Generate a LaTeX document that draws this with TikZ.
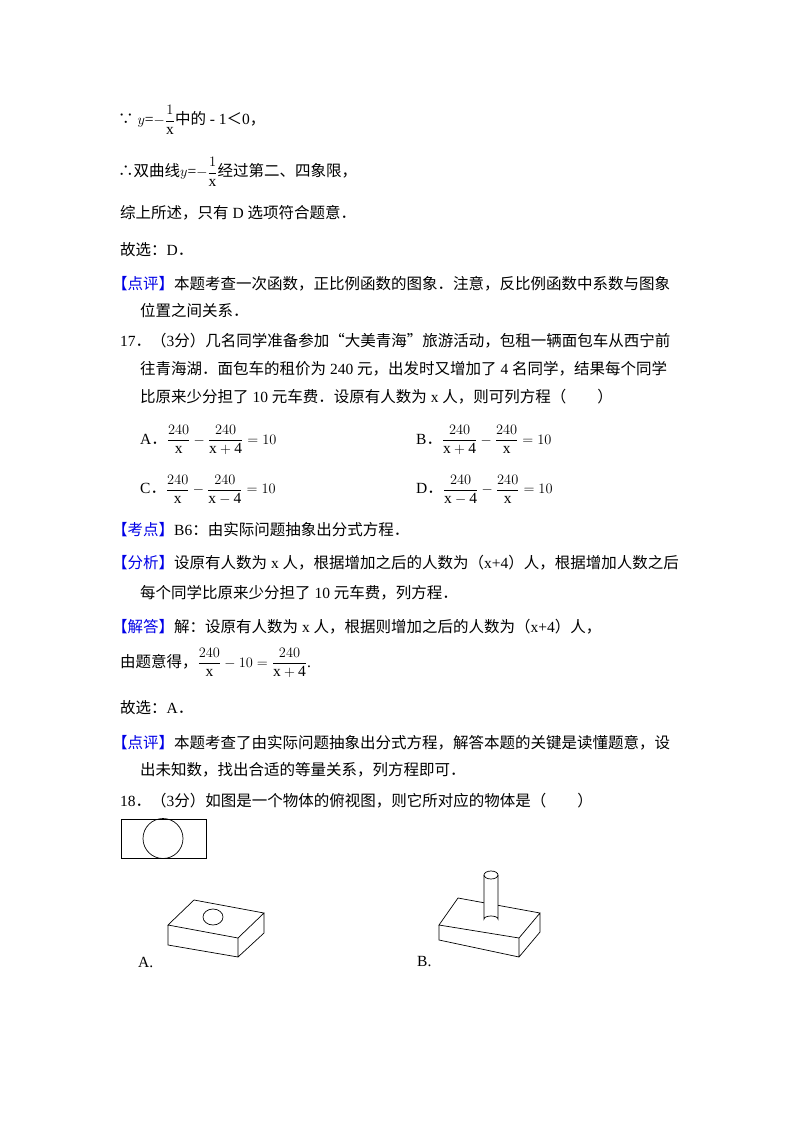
\documentclass[tikz,border=0pt]{standalone}
\usepackage{amsmath}
\usepackage{fontspec}
\setmainfont{Liberation Serif}
\newfontfamily\cjk{Noto Sans CJK SC}
\newcommand{\C}[1]{{\cjk #1}}
\definecolor{bl}{RGB}{0,0,230}
\newcommand{\btag}[1]{\textcolor{bl}{\C{【#1】}}}
\begin{document}
\begin{tikzpicture}[x=1pt,y=-1pt,font=\fontsize{15.5}{18}\selectfont,
 t/.style={anchor=west,inner sep=0pt},
 ln/.style={line width=0.9pt}]
\useasboundingbox (0,0) rectangle (800,1132);
\node[t] (l1) at (118,120) {\C{∵} $y$=$-\dfrac{1}{\mathrm{x}}$\C{中的} - 1\C{＜}0\C{，}};
\node[t] (l2) at (118,172) {\C{∴双曲线}$y$=$-\dfrac{1}{\mathrm{x}}$\C{经过第二、四象限，}};
\node[t] (l3) at (120,213) {\C{综上所述，只有} D \C{选项符合题意．}};
\node[t] (l4) at (120,250) {\C{故选：}D\C{．}};
\node[t] (l5) at (112,284) {\btag{点评}\C{本题考查一次函数，正比例函数的图象．注意，反比例函数中系数与图象}};
\node[t] (l6) at (140,311) {\C{位置之间关系．}};
\node[t] (l7) at (120,341) {17\C{．（}3\C{分）几名同学准备参加“大美青海”旅游活动，包租一辆面包车从西宁前}};
\node[t] (l8) at (140,369) {\C{往青海湖．面包车的租价为} 240 \C{元，出发时又增加了} 4 \C{名同学，结果每个同学}};
\node[t] (l9) at (140,397) {\C{比原来少分担了} 10 \C{元车费．设原有人数为} x \C{人，则可列方程（\quad\quad）}};
\node[t] (oa) at (140,440) {A\C{．}$\dfrac{240}{\mathrm{x}}-\dfrac{240}{\mathrm{x+4}}=10$};
\node[t] (ob) at (416,440) {B\C{．}$\dfrac{240}{\mathrm{x+4}}-\dfrac{240}{\mathrm{x}}=10$};
\node[t] (oc) at (140,490) {C\C{．}$\dfrac{240}{\mathrm{x}}-\dfrac{240}{\mathrm{x-4}}=10$};
\node[t] (od) at (416,490) {D\C{．}$\dfrac{240}{\mathrm{x-4}}-\dfrac{240}{\mathrm{x}}=10$};
\node[t] (l10) at (112,530) {\btag{考点}B6\C{：由实际问题抽象出分式方程．}};
\node[t] (l11) at (112,563) {\btag{分析}\C{设原有人数为} x \C{人，根据增加之后的人数为（}x+4\C{）人，根据增加人数之后}};
\node[t] (l12) at (140,593) {\C{每个同学比原来少分担了} 10 \C{元车费，列方程．}};
\node[t] (l13) at (112,627) {\btag{解答}\C{解：设原有人数为} x \C{人，根据则增加之后的人数为（}x+4\C{）人，}};
\node[t] (l14) at (120,663) {\C{由题意得，}$\dfrac{240}{\mathrm{x}}-10=\dfrac{240}{\mathrm{x+4}}$.};
\node[t] (l15) at (120,708) {\C{故选：}A\C{．}};
\node[t] (l16) at (112,743) {\btag{点评}\C{本题考查了由实际问题抽象出分式方程，解答本题的关键是读懂题意，设}};
\node[t] (l17) at (140,770) {\C{出未知数，找出合适的等量关系，列方程即可．}};
\node[t] (l18) at (120,801) {18\C{．（}3\C{分）如图是一个物体的俯视图，则它所对应的物体是（\quad\quad）}};
% top view
\draw[ln] (121,819) rectangle (206,858);
\draw[line width=0.7pt] (163,838.5) circle (20);
% A
\draw[line width=0.7pt] (168,925)--(194,900)--(264,913)--(238,938)--cycle
 (168,925)--(168,945)--(238,957)--(264,933)--(264,913) (238,938)--(238,957);
\draw[line width=0.7pt] (213,917) ellipse (10 and 8);
\node[t] (la) at (138,962) {A.};
% B
\draw[line width=0.7pt] (439,925)--(458,898)--(540,913)--(519,938)--cycle
 (439,925)--(439,940)--(519,957)--(540,932)--(540,913) (519,938)--(519,957);
\fill[white] (484,875) rectangle (498,919);
\draw[line width=0.7pt] (484,875)--(484,919) arc (180:360:7 and 3) --(498,875);
\draw[line width=0.7pt] (491,875) ellipse (7 and 4);
\node[t] (lb) at (417,962) {B.};
\end{tikzpicture}
\end{document}
